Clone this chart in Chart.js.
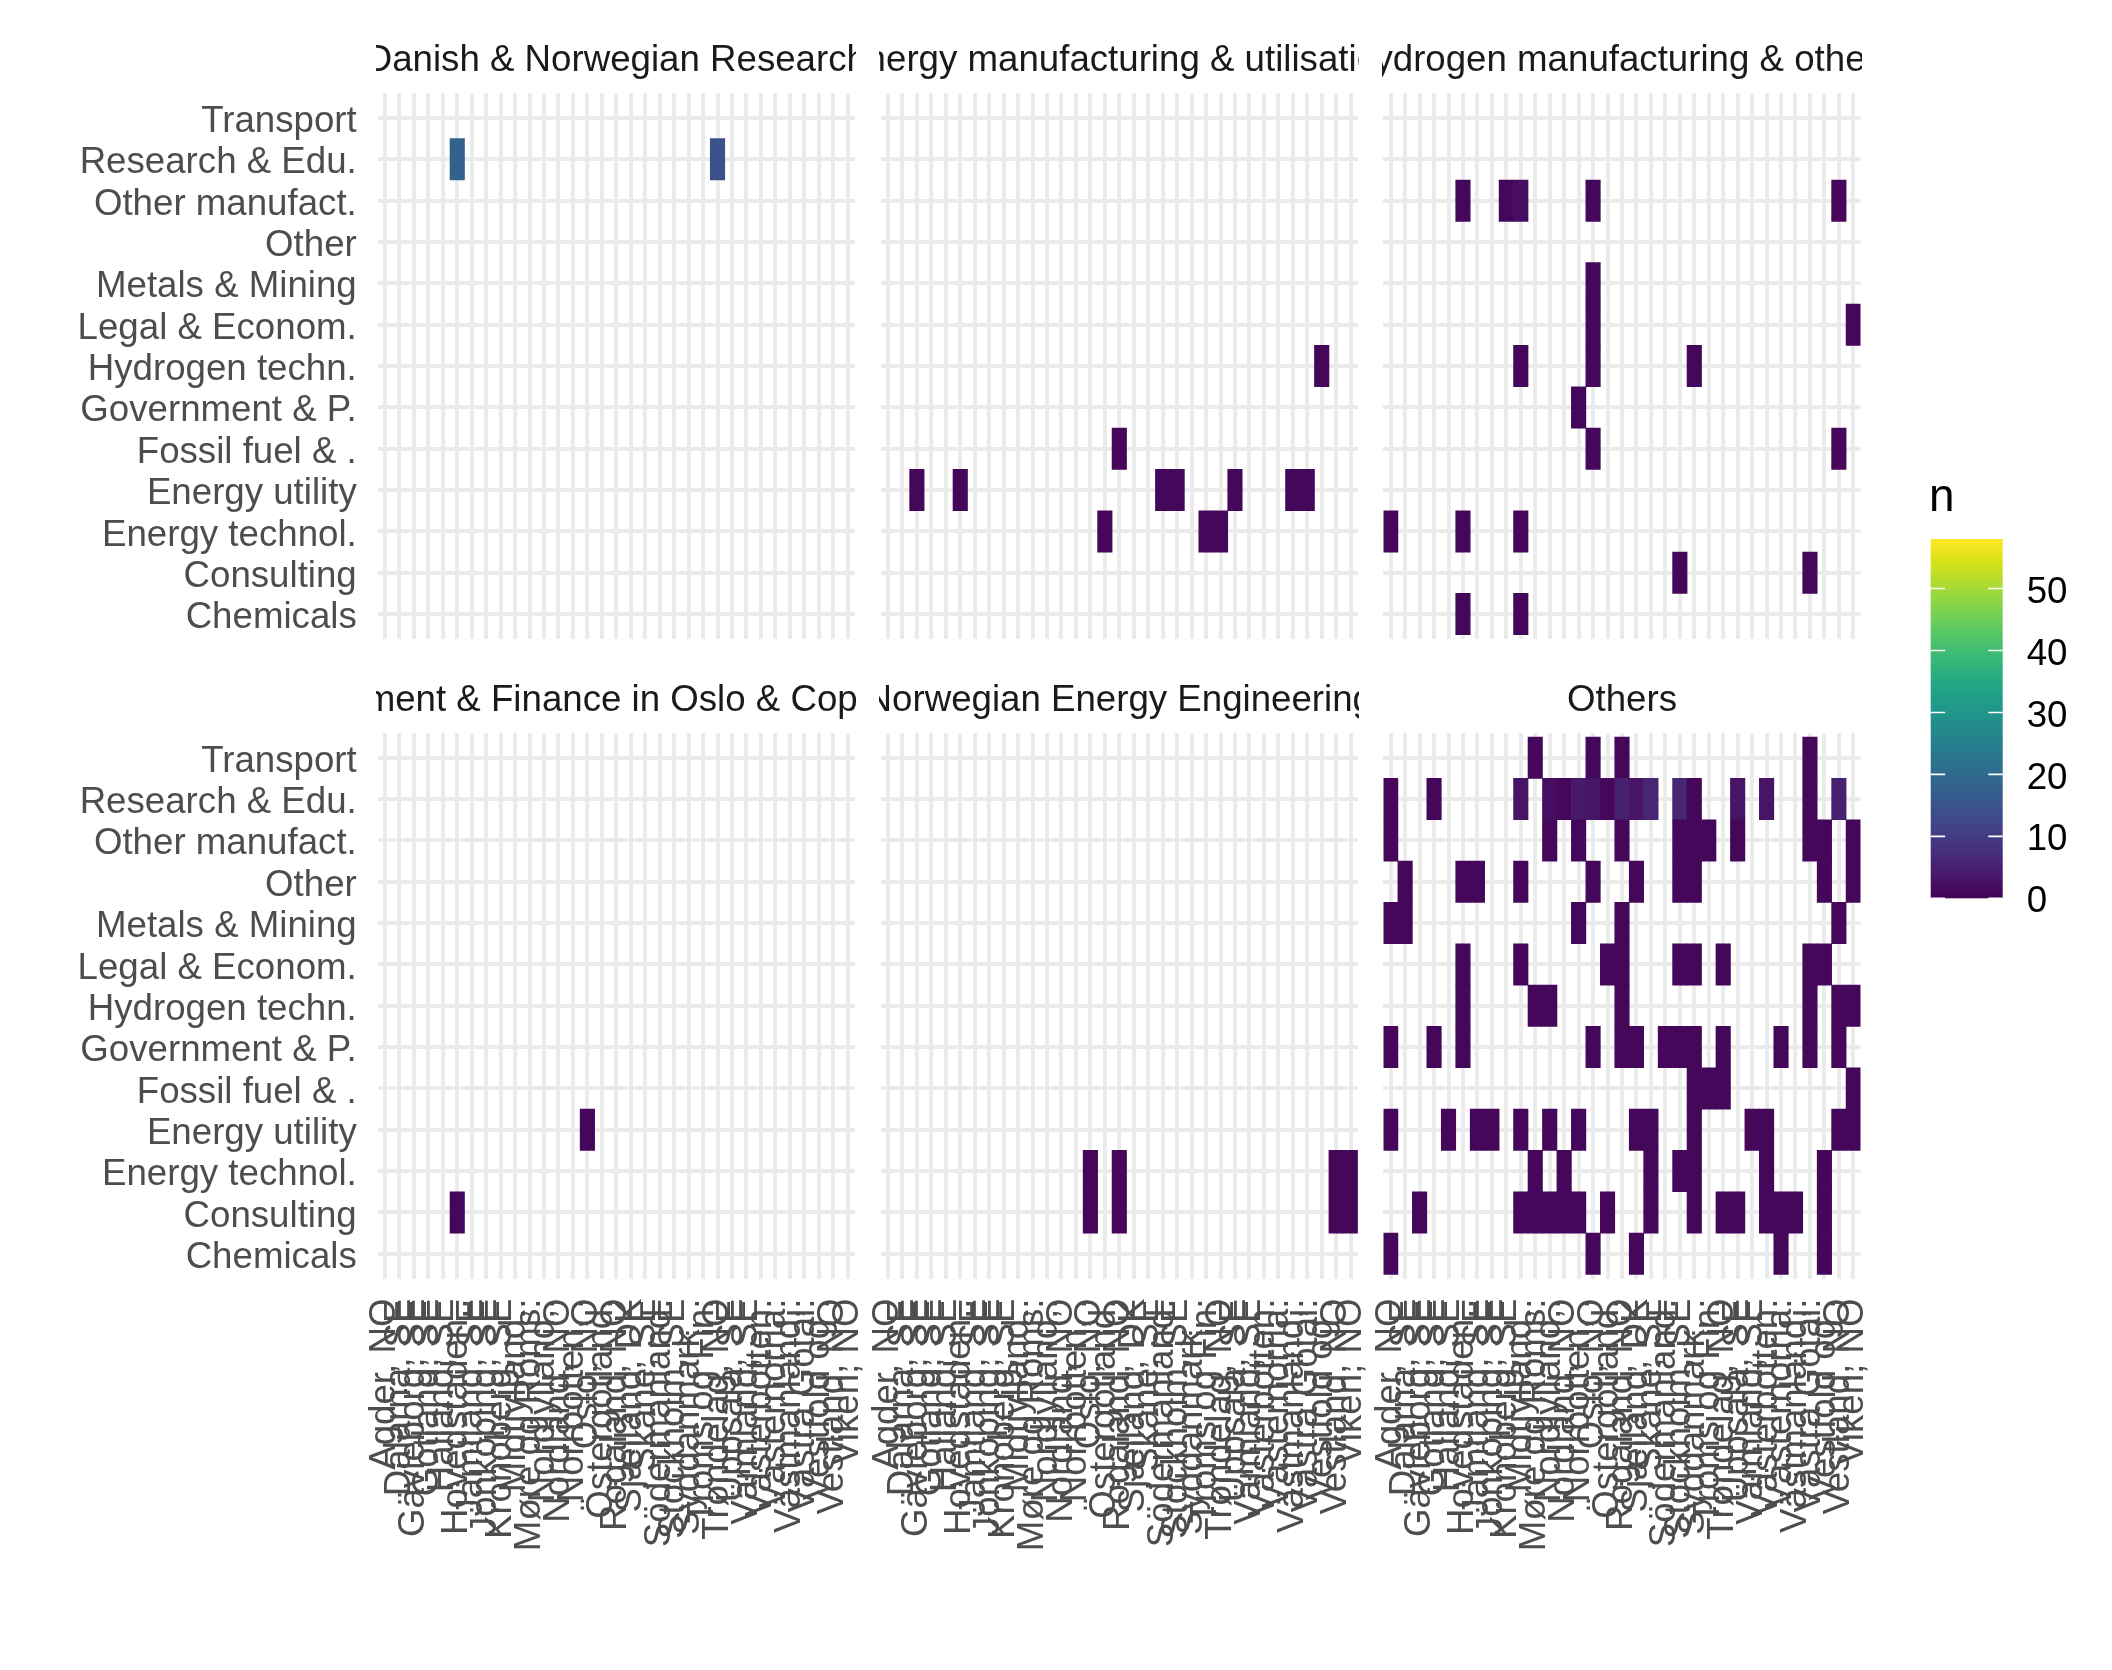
<!DOCTYPE html>
<html>
<head>
<meta charset="utf-8">
<script src="https://cdn.jsdelivr.net/npm/chart.js@4.4.1/dist/chart.umd.min.js"></script>
<style>
  html, body { margin: 0; padding: 0; background: #ffffff; }
  #root { position: relative; width: 2112px; height: 1670px; background: #ffffff; overflow: hidden;
          font-family: 'Liberation Sans', Arial, Helvetica, sans-serif; }
  #root canvas { position: absolute; }
  .strip { position: absolute; display: flex; justify-content: center; overflow: hidden; white-space: nowrap;
           font-size: 36.67px; line-height: 36.67px; height: 46px; color: #1A1A1A; }
  .strip span { flex: none; }
  .legend-title { position: absolute; font-size: 45.83px; line-height: 45.83px; color: #000000; white-space: nowrap; }
</style>
</head>
<body>
<div id="root"></div>
<script>
// ---------------- data ----------------
const regions = [
  "Agder, NO", "Dalarna, SE", "Gävleborg, SE", "Gotland, SE", "Halland, SE",
  "Hovedstaden, DK", "Jämtland, SE", "Jönköping, SE", "Kronoberg, SE", "Midtjylland, DK",
  "Møre og Romsdal, NO", "Nordjylland, DK", "Nordland, NO", "Norrbotten, SE", "Oslo, NO",
  "Östergötland, SE", "Rogaland, NO", "Sjælland, DK", "Skåne, SE", "Södermanland, SE",
  "Stockholm, SE", "Syddanmark, DK", "Troms og Finnmark, NO", "Trøndelag, NO", "Uppsala, SE",
  "Värmland, SE", "Västerbotten, SE", "Västernorrland, SE", "Västmanland, SE", "Västra Götaland, SE",
  "Vestfold og Telemark, NO", "Vestland, NO", "Viken, NO"
];

// y categories, bottom to top
const sectors = [
  "Chemicals", "Consulting", "Energy technol.", "Energy utility", "Fossil fuel & .",
  "Government & P.", "Hydrogen techn.", "Legal & Econom.", "Metals & Mining", "Other",
  "Other manufact.", "Research & Edu.", "Transport"
];

const facetTitles = [
  "Danish & Norwegian Research",
  "Energy manufacturing & utilisation",
  "Hydrogen manufacturing & others",
  "Management & Finance in Oslo & Copenhagen",
  "Norwegian Energy Engineering",
  "Others"
];

// each entry: [sector, region indices, counts (omitted = all 1)]
const researchCells = [
  ["Research & Edu.", [5, 23], [18, 14]]
];
const energyManufacturingCells = [
  ["Energy technol.", [15, 22, 23]],
  ["Energy utility", [2, 5, 19, 20, 24, 28, 29]],
  ["Fossil fuel & .", [16]],
  ["Hydrogen techn.", [30]]
];
const hydrogenCells = [
  ["Chemicals", [5, 9]],
  ["Consulting", [20, 29]],
  ["Energy technol.", [0, 5, 9]],
  ["Fossil fuel & .", [14, 31]],
  ["Government & P.", [13]],
  ["Hydrogen techn.", [9, 14, 21]],
  ["Legal & Econom.", [14, 32]],
  ["Metals & Mining", [14]],
  ["Other manufact.", [5, 8, 9, 14, 31], [1, 1, 2, 1, 1]]
];
const managementCells = [
  ["Consulting", [5]],
  ["Energy utility", [14]]
];
const norwegianEngineeringCells = [
  ["Consulting", [14, 16, 31, 32]],
  ["Energy technol.", [14, 16, 31, 32]]
];
const othersCells = [
  ["Chemicals", [0, 14, 17, 27, 30]],
  ["Consulting", [2, 9, 10, 11, 12, 13, 15, 18, 21, 23, 24, 26, 27, 28, 30]],
  ["Energy technol.", [10, 12, 18, 20, 21, 26, 30]],
  ["Energy utility", [0, 4, 6, 7, 9, 11, 13, 17, 18, 21, 25, 26, 31, 32]],
  ["Fossil fuel & .", [21, 22, 23, 32]],
  ["Government & P.", [0, 3, 5, 14, 16, 17, 19, 20, 21, 23, 27, 29, 31]],
  ["Hydrogen techn.", [5, 10, 11, 16, 29, 31, 32]],
  ["Legal & Econom.", [5, 9, 15, 16, 20, 21, 23, 29, 30]],
  ["Metals & Mining", [0, 1, 13, 16, 31]],
  ["Other", [1, 5, 6, 9, 14, 17, 20, 21, 30, 32]],
  ["Other manufact.", [0, 11, 13, 16, 20, 21, 22, 24, 29, 30, 32]],
  ["Research & Edu.", [0, 3, 9, 11, 12, 13, 14, 15, 16, 17, 18, 20, 21, 24, 26, 29, 31],
                      [1, 1, 3, 2, 1, 4, 3, 1, 5, 3, 6, 6, 1, 3, 3, 1, 5]],
  ["Transport", [10, 14, 16, 29]]
];
const facetCells = [researchCells, energyManufacturingCells, hydrogenCells,
                    managementCells, norwegianEngineeringCells, othersCells];

const colourLimits = [0, 58];
const colourBreaks = [0, 10, 20, 30, 40, 50];
const legendTitle = "n";

// ---------------- styling / layout ----------------
const viridisStops = ['#440154','#48186a','#472d7b','#424086','#3b528b','#33638d','#2c728e','#26828e',
                      '#21918c','#1fa088','#28ae80','#3fbc73','#5ec962','#84d44b','#addc30','#d8e219','#fde725'];
const gridColour = '#EBEBEB';
const axisTextColour = '#4D4D4D';
const fontSize = 36.67;
const xLabelMaxChars = 13;

Chart.defaults.font.family = "'Liberation Sans', Arial, Helvetica, sans-serif";
Chart.defaults.font.size = fontSize;

function hexToRgb(h) { return [1, 3, 5].map(i => parseInt(h.slice(i, i + 2), 16)); }
function viridis(t) {
  t = Math.max(0, Math.min(1, t));
  const p = t * (viridisStops.length - 1);
  const i = Math.min(Math.floor(p), viridisStops.length - 2);
  const f = p - i;
  const a = hexToRgb(viridisStops[i]), b = hexToRgb(viridisStops[i + 1]);
  const c = a.map((v, k) => Math.round(v + (b[k] - v) * f));
  return `rgb(${c[0]},${c[1]},${c[2]})`;
}
function colourFor(n) { return viridis((n - colourLimits[0]) / (colourLimits[1] - colourLimits[0])); }
function truncLabel(s, n) { return s.length > n ? s.slice(0, n - 1) + '.' : s; }

const catW = 14.458, rowH = 41.34;
const panelLeft = [376.3, 879.3, 1382.0];
const panelW = 33.2 * catW;
const panelTop = [93.2, 732.9];
const panelH = 13.2 * rowH;
const root = document.getElementById('root');

function buildDatasets(cells) {
  return sectors.map((sector, si) => {
    const counts = regions.map(() => null);
    cells.filter(c => c[0] === sector).forEach(([, idxs, ns]) => {
      idxs.forEach((ri, k) => { counts[ri] = ns ? ns[k] : 1; });
    });
    return {
      label: sector,
      data: counts.map(n => n == null ? null : [si - 0.5, si + 0.5]),
      backgroundColor: counts.map(n => n == null ? 'rgba(0,0,0,0)' : colourFor(n)),
      grouped: false,
      barPercentage: 1,
      categoryPercentage: 1,
      borderWidth: 0,
      borderSkipped: false
    };
  });
}

function buildFacet(fi) {
  const r = Math.floor(fi / 3), c = fi % 3;
  const A = panelLeft[c] + 0.1 * catW, B = panelLeft[c] + panelW - 0.1 * catW;
  const P = panelTop[r], Q = panelTop[r] + panelH;
  const M = 70;
  const L = c === 0 ? 0 : Math.floor(A) - M;
  const R = Math.ceil(B) + M;
  const T = Math.floor(P) - M;
  const xH = r === 1 ? 330 : 0;
  const Bt = r === 1 ? Math.ceil(Q) + xH + 20 : Math.ceil(Q) + M;
  const cv = document.createElement('canvas');
  cv.width = R - L; cv.height = Bt - T;
  cv.style.left = L + 'px'; cv.style.top = T + 'px';
  cv.style.width = (R - L) + 'px'; cv.style.height = (Bt - T) + 'px';
  root.appendChild(cv);
  const yW = c === 0 ? A - L : 0;

  new Chart(cv, {
    type: 'bar',
    data: { labels: regions, datasets: buildDatasets(facetCells[fi]) },
    options: {
      responsive: false, animation: false, devicePixelRatio: 1, events: [],
      layout: { padding: { left: c === 0 ? 0 : A - L, right: R - B, top: P - T, bottom: Bt - Q - xH } },
      plugins: { legend: { display: false }, tooltip: { enabled: false }, title: { display: false } },
      scales: {
        x: {
          type: 'category', offset: true,
          grid: { offset: false, color: gridColour, lineWidth: 4, drawTicks: false },
          border: { display: false },
          ticks: {
            display: r === 1, autoSkip: false, minRotation: 90, maxRotation: 90, padding: 20,
            color: axisTextColour, font: { size: fontSize },
            callback: (v, i) => truncLabel(regions[i], xLabelMaxChars)
          },
          afterFit: s => { s.height = xH; }
        },
        y: {
          type: 'linear', min: -0.6, max: sectors.length - 0.4,
          afterBuildTicks: s => { s.ticks = sectors.map((_, k) => ({ value: k })); },
          grid: { color: gridColour, lineWidth: 4, drawTicks: false },
          border: { display: false },
          ticks: {
            display: c === 0, autoSkip: false, padding: 21, labelOffset: 4,
            color: axisTextColour, font: { size: fontSize },
            callback: v => sectors[Math.round(v)]
          },
          afterFit: s => { s.width = yW; }
        }
      }
    }
  });

  // strip title (clipped to the panel width, like the facet strip)
  const strip = document.createElement('div');
  strip.className = 'strip';
  strip.style.left = panelLeft[c] + 'px';
  strip.style.width = panelW + 'px';
  strip.style.top = (41 + (panelTop[r] - panelTop[0])) + 'px';
  const span = document.createElement('span');
  span.textContent = facetTitles[fi];
  strip.appendChild(span);
  root.appendChild(strip);
}

for (let i = 0; i < 6; i++) buildFacet(i);

// ---------------- colour bar legend ----------------
(function buildLegend() {
  const L = 1900, T = 480, W = 212, H = 480;
  const barL = 1930.7, barR = 2002.7, barT = 539, barB = 898.3;
  const cv = document.createElement('canvas');
  cv.width = W; cv.height = H;
  cv.style.left = L + 'px'; cv.style.top = T + 'px';
  cv.style.width = W + 'px'; cv.style.height = H + 'px';
  root.appendChild(cv);

  const colourbar = {
    id: 'colourbar',
    beforeDatasetsDraw(chart) {
      const { ctx, chartArea: a } = chart;
      const ys = chart.scales.y;
      const g = ctx.createLinearGradient(0, ys.getPixelForValue(colourLimits[0]), 0, ys.getPixelForValue(colourLimits[1]));
      viridisStops.forEach((col, k) => g.addColorStop(k / (viridisStops.length - 1), col));
      ctx.save();
      ctx.fillStyle = g;
      ctx.fillRect(a.left, a.top, a.right - a.left, a.bottom - a.top);
      const tw = (a.right - a.left) / 5;
      ctx.strokeStyle = '#ffffff';
      ctx.lineWidth = 1.6;
      colourBreaks.forEach(v => {
        const y = ys.getPixelForValue(v);
        ctx.beginPath();
        ctx.moveTo(a.left, y); ctx.lineTo(a.left + tw, y);
        ctx.moveTo(a.right - tw, y); ctx.lineTo(a.right, y);
        ctx.stroke();
      });
      ctx.restore();
    }
  };

  new Chart(cv, {
    type: 'scatter',
    data: { datasets: [] },
    options: {
      responsive: false, animation: false, devicePixelRatio: 1, events: [],
      layout: { padding: { left: barL - L, right: 0, top: barT - T, bottom: (T + H) - barB } },
      plugins: { legend: { display: false }, tooltip: { enabled: false } },
      scales: {
        x: { display: false, min: 0, max: 1 },
        y: {
          position: 'right', min: colourLimits[0], max: colourLimits[1],
          afterBuildTicks: s => { s.ticks = colourBreaks.map(v => ({ value: v })); },
          grid: { display: false, drawTicks: false },
          border: { display: false },
          ticks: { color: '#000000', padding: 24, labelOffset: 4, autoSkip: false, font: { size: fontSize }, callback: v => String(v) },
          afterFit: s => { s.width = (L + W) - barR; }
        }
      }
    },
    plugins: [colourbar]
  });

  const title = document.createElement('div');
  title.className = 'legend-title';
  title.style.left = '1929px';
  title.style.top = '472.9px';
  title.textContent = legendTitle;
  root.appendChild(title);
})();
</script>
</body>
</html>
